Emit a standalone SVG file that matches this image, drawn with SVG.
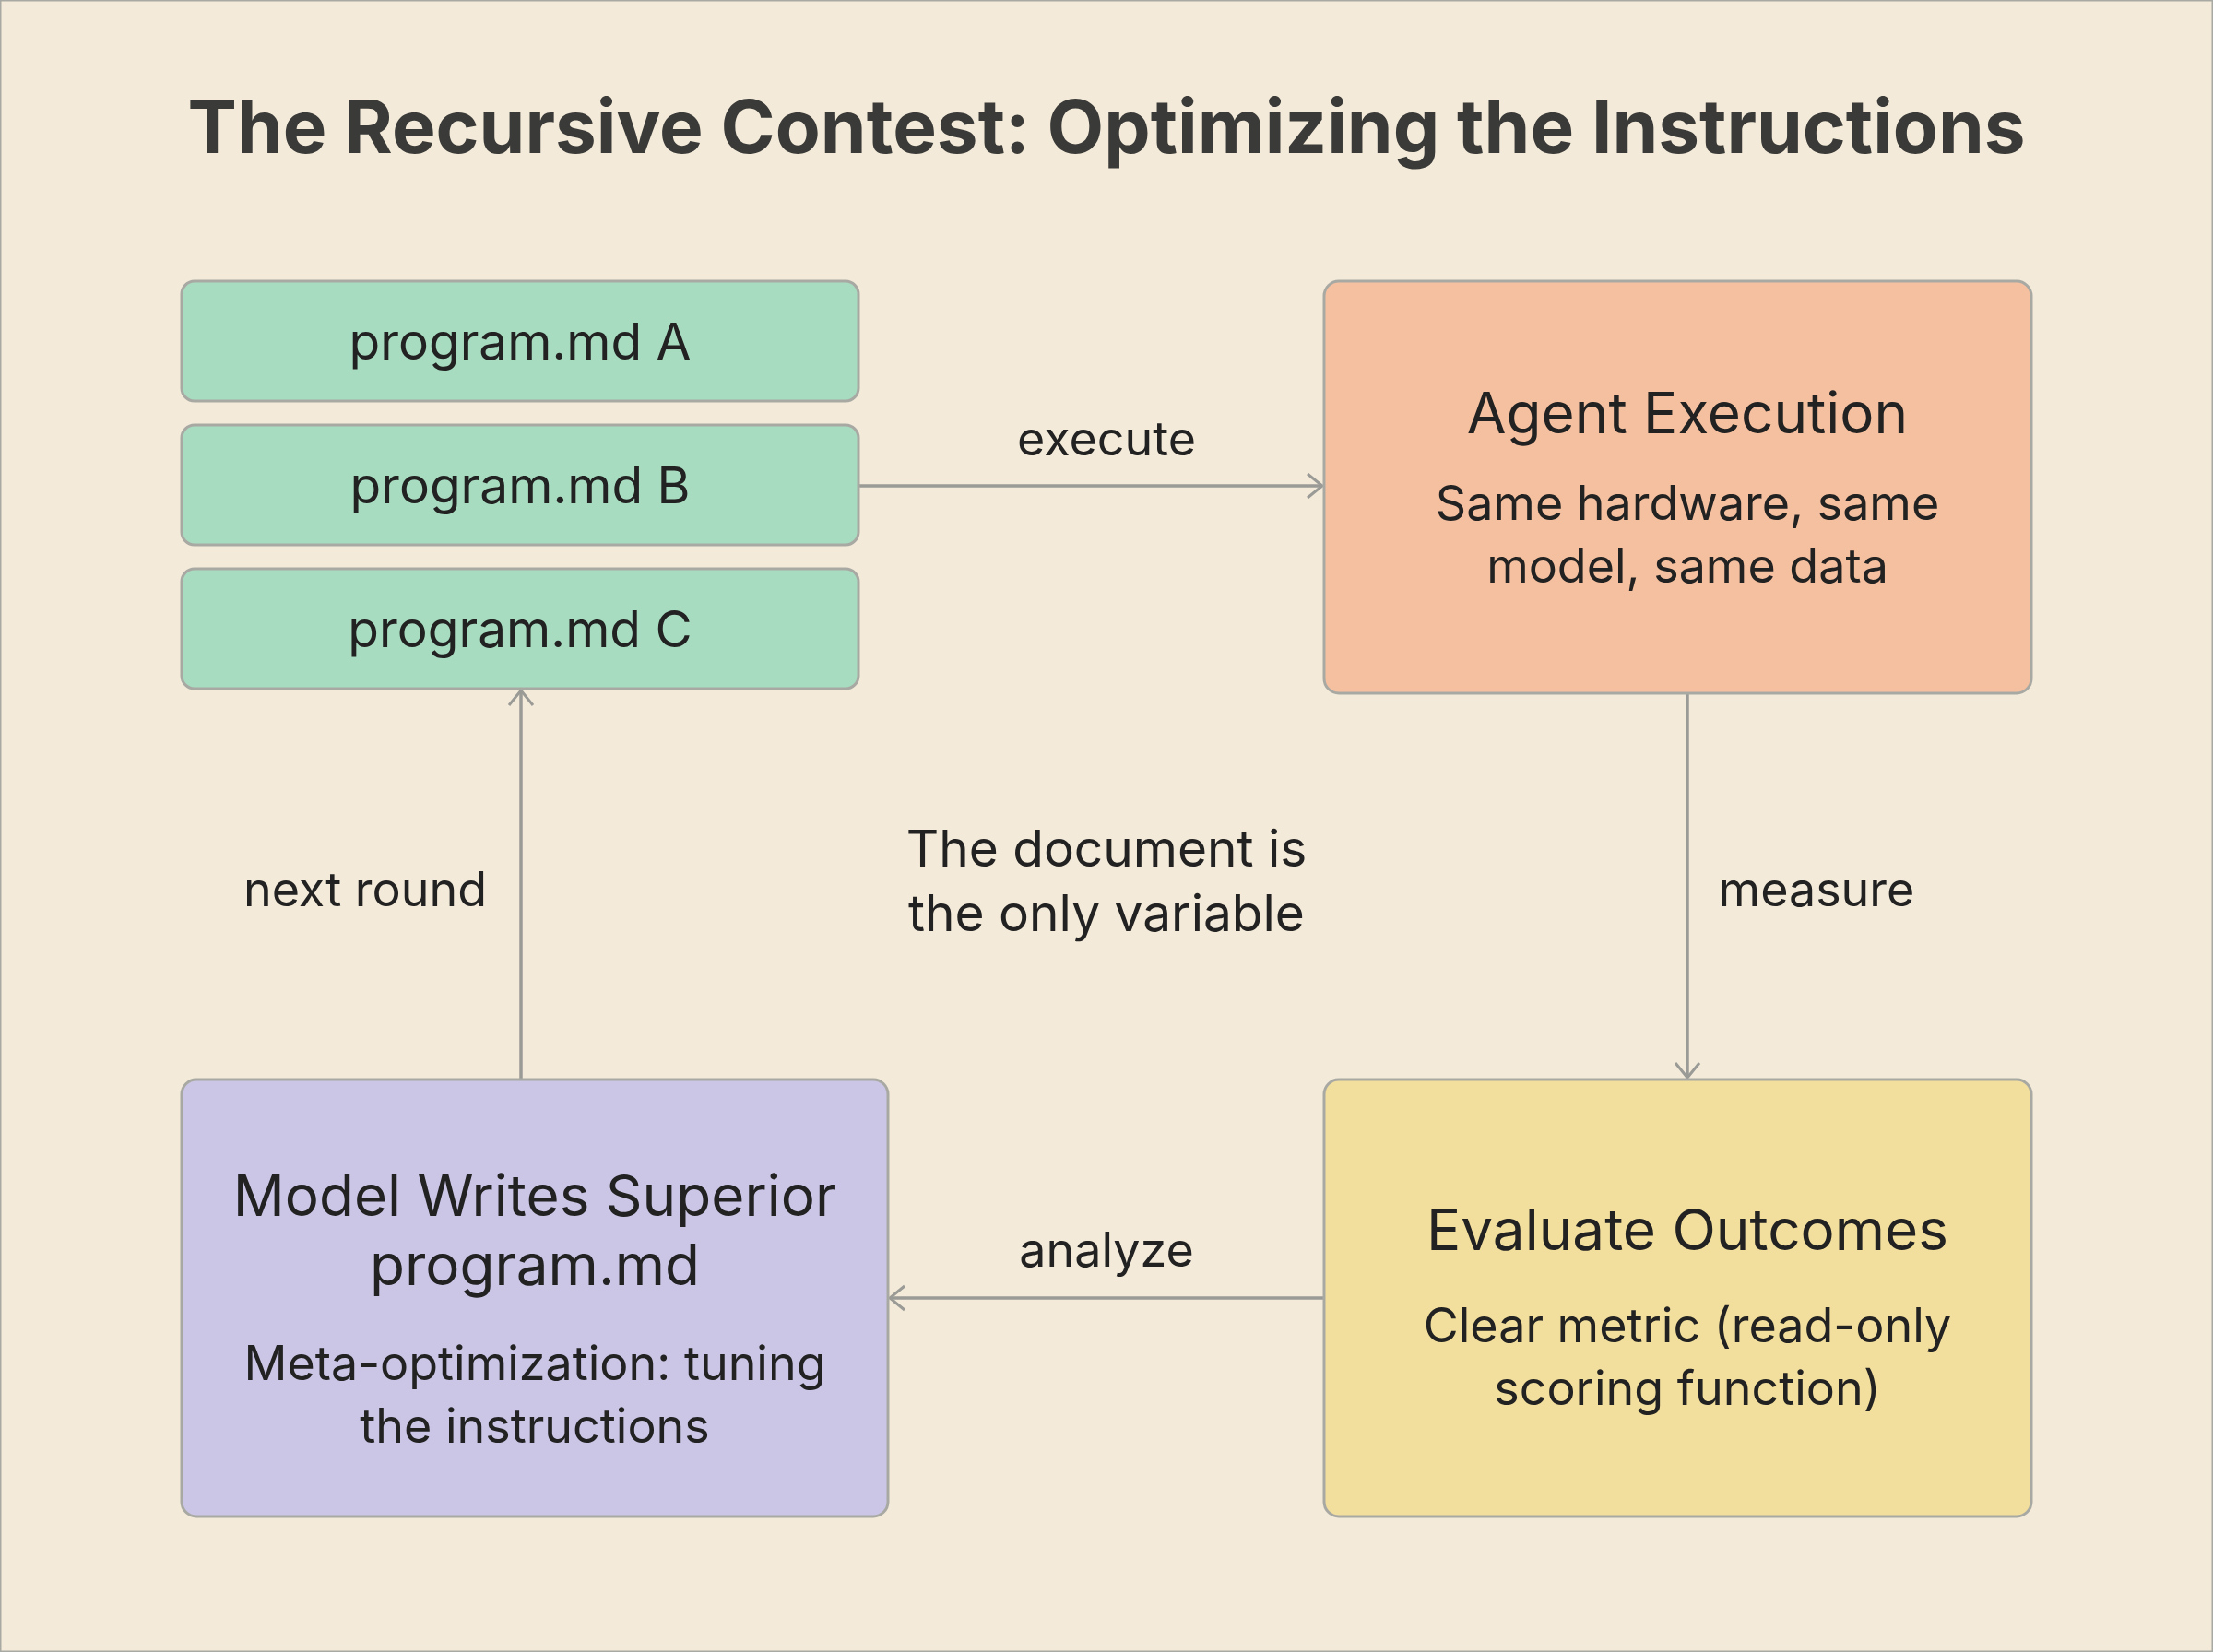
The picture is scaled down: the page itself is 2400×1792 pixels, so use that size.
<svg xmlns="http://www.w3.org/2000/svg" width="2400" height="1792" viewBox="0 0 2400 1792">
<defs>
<marker id="ah" viewBox="0 0 20 30" refX="18" refY="15" markerWidth="20" markerHeight="30" markerUnits="userSpaceOnUse" orient="auto">
<path d="M2 2 L18 15 L2 28" fill="none" stroke="#9a9a96" stroke-width="3"/>
</marker>
<style>
text{font-family:Inter,"Noto Sans","Liberation Sans",sans-serif;fill:#222;text-anchor:middle}
.t{font-size:80px;font-weight:700;fill:#3a3a38}
.n{font-size:55px}
.h{font-size:62px}
.s{font-size:52px}
.l{font-size:52px}
rect{stroke:#a9a9a4;stroke-width:3}
.c{fill:none;stroke:#9a9a96;stroke-width:3.5;marker-end:url(#ah)}
</style>
</defs>
<rect x="0" y="0" width="2400" height="1792" fill="#f3ead9" stroke="none"/>
<text class="t" x="1200" y="166">The Recursive Contest: Optimizing the Instructions</text>
<g id="connectors">
<line class="c" x1="931" y1="527" x2="1434" y2="527"/>
<line class="c" x1="1830" y1="752" x2="1830" y2="1169"/>
<line class="c" x1="1436" y1="1408" x2="965" y2="1408"/>
<line class="c" x1="565" y1="1171" x2="565" y2="749"/>
<text class="l" x="1200" y="494">execute</text>
<text class="l" x="1970" y="983">measure</text>
<text class="l" x="1200" y="1374">analyze</text>
<text class="l" x="396" y="983">next round</text>
</g>
<g id="note"><text class="n" x="1200" y="940">The document is</text><text class="n" x="1200" y="1010">the only variable</text></g>
<g id="progA"><rect x="197" y="305" width="734" height="130" rx="14" fill="#a8dcc0"/><text class="n" x="564" y="390">program.md A</text></g>
<g id="progB"><rect x="197" y="461" width="734" height="130" rx="14" fill="#a8dcc0"/><text class="n" x="564" y="546">program.md B</text></g>
<g id="progC"><rect x="197" y="617" width="734" height="130" rx="14" fill="#a8dcc0"/><text class="n" x="564" y="702">program.md C</text></g>
<g id="agent"><rect x="1436" y="305" width="767" height="447" rx="16" fill="#f5c0a0"/><text class="h" x="1830" y="470">Agent Execution</text><text class="s" x="1830" y="564">Same hardware, same</text><text class="s" x="1830" y="632">model, same data</text></g>
<g id="evaluate"><rect x="1436" y="1171" width="767" height="474" rx="16" fill="#f3df9d"/><text class="h" x="1830" y="1356">Evaluate Outcomes</text><text class="s" x="1830" y="1456">Clear metric (read-only</text><text class="s" x="1830" y="1524">scoring function)</text></g>
<g id="model"><rect x="197" y="1171" width="766" height="474" rx="16" fill="#cbc6e6"/><text class="h" x="580" y="1319">Model Writes Superior</text><text class="h" x="580" y="1394">program.md</text><text class="s" x="580" y="1497">Meta-optimization: tuning</text><text class="s" x="580" y="1565">the instructions</text></g>
</svg>
